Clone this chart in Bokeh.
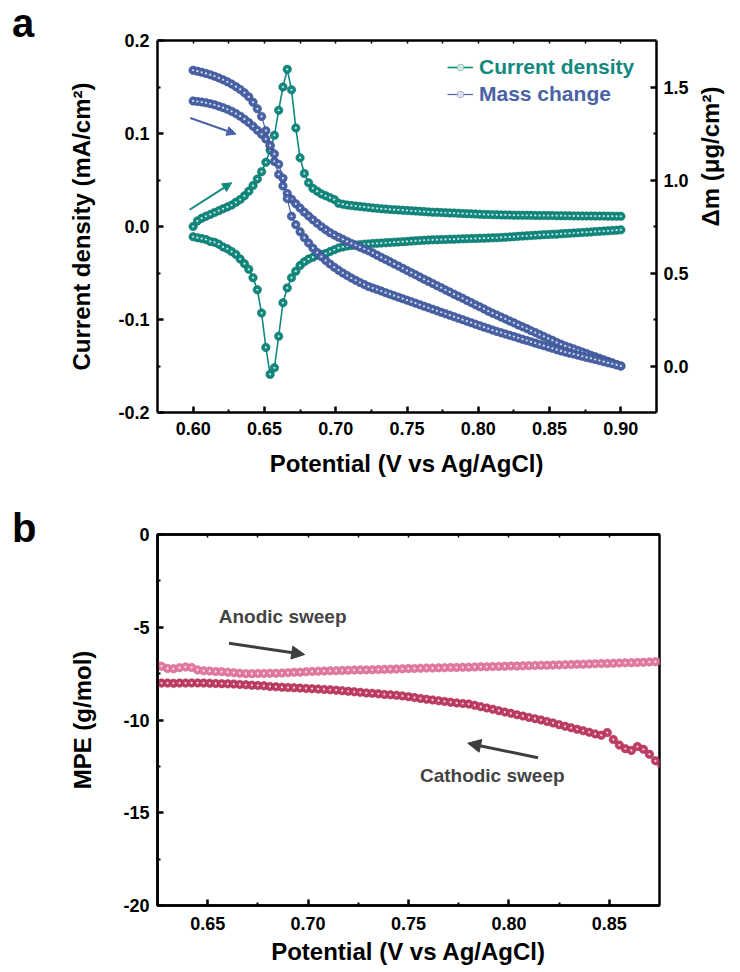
import math
from bokeh.plotting import figure
from bokeh.models import (Range1d, LinearAxis, FixedTicker, PrintfTickFormatter,
                          CustomJSTickFormatter, Legend, LegendItem, Arrow,
                          NormalHead, Label, ColumnDataSource, Div)
from bokeh.layouts import column, row
from bokeh.embed import file_html
from bokeh.resources import INLINE

# ---------------- data ----------------
POTENTIAL = [0.600, 0.603, 0.606, 0.609, 0.612, 0.615, 0.618, 0.621, 0.624, 0.627,
             0.630, 0.633, 0.636, 0.639, 0.642, 0.645, 0.648, 0.651, 0.654, 0.657,
             0.660, 0.663, 0.666, 0.669, 0.672, 0.675, 0.678, 0.681, 0.684, 0.687,
             0.690, 0.693, 0.696, 0.699, 0.702, 0.705, 0.708, 0.711, 0.714, 0.717,
             0.720, 0.723, 0.726, 0.729, 0.732, 0.735, 0.738, 0.741, 0.744, 0.747,
             0.750, 0.753, 0.756, 0.759, 0.762, 0.765, 0.768, 0.771, 0.774, 0.777,
             0.780, 0.783, 0.786, 0.789, 0.792, 0.795, 0.798, 0.801, 0.804, 0.807,
             0.810, 0.813, 0.816, 0.819, 0.822, 0.825, 0.828, 0.831, 0.834, 0.837,
             0.840, 0.843, 0.846, 0.849, 0.852, 0.855, 0.858, 0.861, 0.864, 0.867,
             0.870, 0.873, 0.876, 0.879, 0.882, 0.885, 0.888, 0.891, 0.894, 0.897,
             0.900]

# current density (mA/cm2), anodic and cathodic branches
CD_ANODIC = [0.000, 0.006, 0.009, 0.011, 0.013, 0.015, 0.017, 0.019, 0.021, 0.023,
             0.026, 0.029, 0.033, 0.038, 0.044, 0.051, 0.059, 0.069, 0.082, 0.098,
             0.125, 0.150, 0.169, 0.147, 0.106, 0.074, 0.057, 0.047, 0.041, 0.038,
             0.035, 0.033, 0.031, 0.029, 0.025, 0.024, 0.023, 0.0225, 0.022, 0.0215,
             0.021, 0.0205, 0.020, 0.0195, 0.019, 0.0187, 0.0184, 0.0181, 0.0178, 0.0175,
             0.0172, 0.0169, 0.0166, 0.0163, 0.016, 0.0157, 0.0154, 0.0152, 0.015, 0.0148,
             0.0146, 0.0144, 0.0142, 0.014, 0.0138, 0.0136, 0.0134, 0.0132, 0.013, 0.0128,
             0.0127, 0.0126, 0.0125, 0.0124, 0.0123, 0.0122, 0.0121, 0.0121, 0.012, 0.012,
             0.0119, 0.0118, 0.0118, 0.0117, 0.0117, 0.0116, 0.0116, 0.0115, 0.0115, 0.0114,
             0.0114, 0.0113, 0.0113, 0.0113, 0.0112, 0.0112, 0.0112, 0.0111, 0.0111, 0.011,
             0.011]
CD_CATHODIC = [-0.011, -0.012, -0.013, -0.014, -0.016, -0.017, -0.019, -0.022, -0.024, -0.027,
               -0.030, -0.035, -0.040, -0.046, -0.055, -0.068, -0.093, -0.130, -0.159, -0.152,
               -0.118, -0.082, -0.066, -0.055, -0.048, -0.042, -0.038, -0.035, -0.033, -0.031,
               -0.030, -0.029, -0.027, -0.025, -0.023, -0.022, -0.021, -0.0205, -0.020, -0.0195,
               -0.019, -0.0187, -0.0184, -0.0181, -0.0178, -0.0175, -0.0172, -0.0169, -0.0166, -0.0163,
               -0.016, -0.0157, -0.0154, -0.0151, -0.0148, -0.0145, -0.0143, -0.0142, -0.014, -0.0139,
               -0.0137, -0.0136, -0.0134, -0.0133, -0.0131, -0.013, -0.0128, -0.0127, -0.0125, -0.0124,
               -0.0122, -0.0121, -0.0118, -0.0115, -0.0112, -0.0109, -0.0106, -0.0103, -0.01, -0.0097,
               -0.0094, -0.0091, -0.0088, -0.0086, -0.0084, -0.0082, -0.0079, -0.0076, -0.0073, -0.007,
               -0.0067, -0.0064, -0.0061, -0.0058, -0.0055, -0.0052, -0.0049, -0.0046, -0.0043, -0.004,
               -0.0036]

# mass change (ug/cm2), two sweeps
MASS_CATHODIC = [1.590, 1.585, 1.579, 1.573, 1.566, 1.558, 1.549, 1.539, 1.528, 1.516,
                 1.502, 1.487, 1.469, 1.447, 1.418, 1.383, 1.342, 1.265, 1.185, 1.100,
                 1.030, 0.968, 0.928, 0.897, 0.872, 0.849, 0.827, 0.806, 0.786, 0.767,
                 0.749, 0.732, 0.717, 0.704, 0.692, 0.681, 0.670, 0.659, 0.649, 0.639,
                 0.629, 0.619, 0.608, 0.596, 0.584, 0.572, 0.561, 0.549, 0.537, 0.525,
                 0.513, 0.502, 0.490, 0.478, 0.466, 0.455, 0.444, 0.432, 0.421, 0.409,
                 0.398, 0.386, 0.375, 0.364, 0.352, 0.341, 0.329, 0.318, 0.307, 0.295,
                 0.284, 0.274, 0.263, 0.253, 0.242, 0.232, 0.221, 0.211, 0.201, 0.190,
                 0.180, 0.169, 0.159, 0.148, 0.138, 0.127, 0.117, 0.108, 0.100, 0.092,
                 0.083, 0.075, 0.067, 0.058, 0.050, 0.042, 0.033, 0.025, 0.017, 0.008,
                 0.000]
MASS_ANODIC = [1.425, 1.422, 1.419, 1.415, 1.410, 1.404, 1.397, 1.389, 1.380, 1.369,
               1.357, 1.343, 1.327, 1.309, 1.289, 1.268, 1.246, 1.220, 1.185, 1.140,
               1.085, 1.010, 0.900, 0.805, 0.760, 0.722, 0.690, 0.661, 0.634, 0.610,
               0.588, 0.567, 0.548, 0.531, 0.515, 0.500, 0.486, 0.473, 0.461, 0.449,
               0.438, 0.427, 0.419, 0.411, 0.403, 0.394, 0.386, 0.378, 0.370, 0.362,
               0.354, 0.346, 0.338, 0.329, 0.321, 0.313, 0.305, 0.297, 0.289, 0.281,
               0.273, 0.265, 0.257, 0.249, 0.241, 0.233, 0.225, 0.217, 0.209, 0.201,
               0.193, 0.186, 0.179, 0.172, 0.165, 0.158, 0.151, 0.144, 0.137, 0.130,
               0.123, 0.116, 0.109, 0.102, 0.095, 0.088, 0.081, 0.075, 0.069, 0.064,
               0.058, 0.052, 0.046, 0.041, 0.035, 0.029, 0.023, 0.017, 0.012, 0.006,
               0.000]

# MPE (g/mol), panel b
MPE_POTENTIAL = POTENTIAL[8:93]
MPE_ANODIC = [-6.95, -7.10, -7.22, -7.24, -7.18, -7.14, -7.17, -7.30, -7.35, -7.36,
              -7.39, -7.40, -7.42, -7.45, -7.48, -7.50, -7.50, -7.49, -7.49, -7.48,
              -7.48, -7.47, -7.45, -7.43, -7.42, -7.40, -7.38, -7.37, -7.36, -7.35,
              -7.34, -7.33, -7.32, -7.31, -7.30, -7.30, -7.29, -7.28, -7.27, -7.26,
              -7.25, -7.24, -7.23, -7.22, -7.21, -7.20, -7.20, -7.19, -7.18, -7.17,
              -7.17, -7.16, -7.15, -7.14, -7.13, -7.13, -7.12, -7.11, -7.10, -7.09,
              -7.09, -7.08, -7.07, -7.06, -7.05, -7.05, -7.04, -7.03, -7.02, -7.01,
              -7.00, -6.99, -6.98, -6.97, -6.96, -6.95, -6.94, -6.93, -6.92, -6.91,
              -6.90, -6.89, -6.87, -6.86, -6.84]
MPE_CATHODIC = [-8.02, -8.01, -8.01, -8.02, -8.01, -8.01, -8.00, -8.00, -8.01, -8.02,
                -8.03, -8.04, -8.05, -8.06, -8.08, -8.10, -8.12, -8.14, -8.16, -8.19,
                -8.21, -8.23, -8.25, -8.26, -8.28, -8.30, -8.31, -8.33, -8.35, -8.37,
                -8.39, -8.42, -8.45, -8.48, -8.51, -8.54, -8.56, -8.59, -8.62, -8.64,
                -8.67, -8.70, -8.74, -8.79, -8.84, -8.88, -8.92, -8.96, -9.00, -9.04,
                -9.08, -9.11, -9.14, -9.21, -9.28, -9.35, -9.42, -9.50, -9.57, -9.64,
                -9.72, -9.79, -9.86, -9.93, -10.00, -10.08, -10.16, -10.25, -10.34, -10.42,
                -10.50, -10.58, -10.66, -10.75, -10.82, -10.68, -11.05, -11.35, -11.55, -11.64,
                -11.43, -11.58, -11.85, -12.20, -12.40]

# ticks
X1_TICKS = [0.60, 0.65, 0.70, 0.75, 0.80, 0.85, 0.90]
X1_MINOR = [0.625, 0.675, 0.725, 0.775, 0.825, 0.875]
Y1_TICKS = [-0.2, -0.1, 0.0, 0.1, 0.2]
Y1_MINOR = [-0.15, -0.05, 0.05, 0.15]
M_TICKS = [0.0, 0.5, 1.0, 1.5]
M_MINOR = [0.25, 0.75, 1.25]
X2_TICKS = [0.65, 0.70, 0.75, 0.80, 0.85]
X2_MINOR = [0.675, 0.725, 0.775, 0.825]
Y2_TICKS = [-20, -15, -10, -5, 0]
Y2_MINOR = [-17.5, -12.5, -7.5, -2.5]

# annotation anchors (data coordinates)
ARROW_MASS = (0.598, 1.333, 0.630, 1.247)
ARROW_CD = (0.5975, 0.018, 0.627, 0.047)
ARROW_ANODIC = (0.6606, -5.86, 0.6983, -6.47)
ARROW_CATHODIC = (0.8145, -12.04, 0.7795, -11.25)

FONT = "Liberation Sans"
TEAL = "#11897e"
TEAL_EDGE = "#0a6b62"
BLUE = "#4a63a6"
BLUE_EDGE = "#334a86"
PINK = "#e27aa2"
PINK_EDGE = "#c8628a"
CRIMSON = "#c03d64"
CRIMSON_EDGE = "#99284b"
GRAY = "#3e3e3e"

SIDE_W = 40   # width of the column that carries the panel letter
MSIZE = 8.5


def style_axis(ax, labels=True, tick_in=6, minor_in=3):
    ax.axis_line_width = 2.5
    ax.axis_line_color = "black"
    ax.major_tick_in = tick_in
    ax.major_tick_out = 0
    ax.minor_tick_in = minor_in
    ax.minor_tick_out = 0
    ax.major_tick_line_width = 2.5
    ax.minor_tick_line_width = 2
    ax.major_tick_line_color = "black"
    ax.minor_tick_line_color = "black"
    ax.major_label_text_font = FONT
    ax.major_label_text_font_style = "bold"
    ax.major_label_text_font_size = "18px"
    ax.major_label_text_color = "black"
    ax.axis_label_text_font = FONT
    ax.axis_label_text_font_style = "bold"
    ax.axis_label_text_font_size = "24px"
    ax.axis_label_text_color = "black"
    if not labels:
        ax.formatter = CustomJSTickFormatter(code="return ''")
        ax.major_label_standoff = 0


def balls(p, x, y, color, edge, size, range_name="default"):
    src = ColumnDataSource(dict(x=x, y=y))
    r1 = p.scatter("x", "y", source=src, size=size, fill_color=color,
                   line_color=edge, line_width=0.5, y_range_name=range_name)
    r2 = p.scatter("x", "y", source=src, size=size * 0.26, fill_color="white",
                   line_color=None, fill_alpha=0.8, y_range_name=range_name)
    return [r1, r2]


def letter(txt, h, top):
    return Div(text=('<div style="position:relative;left:12px;top:%dpx;'
                     'font-family:\'Liberation Sans\';font-weight:bold;'
                     'font-size:40px;line-height:40px;color:black;">%s</div>') % (top, txt),
               width=SIDE_W, height=h, margin=(0, 0, 0, 0))


# ---------------- panel a ----------------
p1 = figure(width=740 - SIDE_W, height=498, x_range=Range1d(0.575, 0.925),
            y_range=Range1d(-0.2, 0.2), output_backend="svg",
            toolbar_location=None, min_border_left=157 - SIDE_W, min_border_right=81,
            min_border_top=40, min_border_bottom=86)
p1.extra_y_ranges = {"mass": Range1d(-0.25, 1.75)}
p1.xgrid.visible = False
p1.ygrid.visible = False
p1.outline_line_color = None
p1.background_fill_color = "white"

p1.xaxis.ticker = FixedTicker(ticks=X1_TICKS, minor_ticks=X1_MINOR)
p1.xaxis.formatter = PrintfTickFormatter(format="%.2f")
p1.xaxis.axis_label = "Potential (V vs Ag/AgCl)"
p1.yaxis.ticker = FixedTicker(ticks=Y1_TICKS, minor_ticks=Y1_MINOR)
p1.yaxis.formatter = PrintfTickFormatter(format="%.1f")
p1.yaxis.axis_label = "Current density (mA/cm²)"
for ax in p1.xaxis:
    style_axis(ax)
    ax.major_label_standoff = 9
    ax.axis_label_standoff = 12
for ax in p1.yaxis:
    style_axis(ax)
    ax.major_label_standoff = 8
    ax.axis_label_standoff = 20

right = LinearAxis(y_range_name="mass",
                   ticker=FixedTicker(ticks=M_TICKS, minor_ticks=M_MINOR),
                   formatter=PrintfTickFormatter(format="%.1f"),
                   axis_label="Δm (μg/cm²)")
style_axis(right)
right.major_label_standoff = 7
right.axis_label_standoff = 19
try:
    right.axis_label_orientation = math.pi / 2
except Exception:
    pass
p1.add_layout(right, "right")

top1 = LinearAxis(ticker=FixedTicker(ticks=X1_TICKS + X1_MINOR, minor_ticks=[]))
style_axis(top1, labels=False, tick_in=3, minor_in=2)
top1.major_tick_line_width = 1.5
p1.add_layout(top1, "above")

cd_a_line = p1.line(POTENTIAL, CD_ANODIC, line_color=TEAL, line_width=1.6)
cd_c_line = p1.line(POTENTIAL, CD_CATHODIC, line_color=TEAL, line_width=1.6)
cd_a = balls(p1, POTENTIAL, CD_ANODIC, TEAL, TEAL_EDGE, MSIZE)
cd_c = balls(p1, POTENTIAL, CD_CATHODIC, TEAL, TEAL_EDGE, MSIZE)

m_c_line = p1.line(POTENTIAL, MASS_CATHODIC, line_color=BLUE, line_width=1.2,
                   y_range_name="mass")
m_a_line = p1.line(POTENTIAL, MASS_ANODIC, line_color=BLUE, line_width=1.2,
                   y_range_name="mass")
m_c = balls(p1, POTENTIAL, MASS_CATHODIC, BLUE, BLUE_EDGE, MSIZE, "mass")
m_a = balls(p1, POTENTIAL, MASS_ANODIC, BLUE, BLUE_EDGE, MSIZE, "mass")

for (x0, y0, x1, y1), col, rn in [(ARROW_MASS, BLUE, "mass"), (ARROW_CD, TEAL, "default")]:
    p1.add_layout(Arrow(end=NormalHead(size=9, fill_color=col, line_color=col),
                        x_start=x0, y_start=y0, x_end=x1, y_end=y1,
                        line_color=col, line_width=2, y_range_name=rn))

for label, rends, col, loc in [("Current density", [cd_a_line] + cd_a, TEAL, (290, 333)),
                               ("Mass change", [m_a_line] + m_a, BLUE, (290, 306))]:
    lg = Legend(items=[LegendItem(label=label, renderers=rends)], location=loc,
                label_text_font=FONT, label_text_font_style="bold",
                label_text_font_size="21px", label_text_color=col,
                glyph_width=26, glyph_height=16, padding=0, margin=0,
                label_standoff=6, background_fill_alpha=0,
                border_line_color=None)
    p1.add_layout(lg, "center")

# ---------------- panel b ----------------
p2 = figure(width=740 - SIDE_W, height=474, x_range=Range1d(0.625, 0.875),
            y_range=Range1d(-20, 0), output_backend="svg",
            toolbar_location=None, min_border_left=157 - SIDE_W, min_border_right=81,
            min_border_top=36, min_border_bottom=67)
p2.xgrid.visible = False
p2.ygrid.visible = False
p2.outline_line_color = "black"
p2.outline_line_width = 2.5

p2.xaxis.ticker = FixedTicker(ticks=X2_TICKS, minor_ticks=X2_MINOR)
p2.xaxis.formatter = PrintfTickFormatter(format="%.2f")
p2.xaxis.axis_label = "Potential (V vs Ag/AgCl)"
p2.yaxis.ticker = FixedTicker(ticks=Y2_TICKS, minor_ticks=Y2_MINOR)
p2.yaxis.formatter = PrintfTickFormatter(format="%d")
p2.yaxis.axis_label = "MPE (g/mol)"
for ax in p2.xaxis:
    style_axis(ax)
    ax.major_label_standoff = 11
    ax.axis_label_standoff = 5
for ax in p2.yaxis:
    style_axis(ax)
    ax.major_label_standoff = 8
    ax.axis_label_standoff = 24

top2 = LinearAxis(ticker=FixedTicker(ticks=X2_TICKS + X2_MINOR, minor_ticks=[]))
style_axis(top2, labels=False, tick_in=3, minor_in=2)
top2.major_tick_line_width = 1.5
p2.add_layout(top2, "above")

balls(p2, MPE_POTENTIAL, MPE_ANODIC, PINK, PINK_EDGE, MSIZE)
balls(p2, MPE_POTENTIAL, MPE_CATHODIC, CRIMSON, CRIMSON_EDGE, MSIZE)

for (x0, y0, x1, y1) in [ARROW_ANODIC, ARROW_CATHODIC]:
    p2.add_layout(Arrow(end=NormalHead(size=13, fill_color=GRAY, line_color=GRAY),
                        x_start=x0, y_start=y0, x_end=x1, y_end=y1,
                        line_color=GRAY, line_width=3))

p2.add_layout(Label(x=0.6555, y=-4.42, text="Anodic sweep", text_font=FONT,
                    text_font_style="bold", text_font_size="19px",
                    text_baseline="middle", text_align="left"))
p2.add_layout(Label(x=0.7917, y=-13.0, text="Cathodic sweep", text_font=FONT,
                    text_font_style="bold", text_font_size="19px",
                    text_baseline="middle", text_align="center"))

layout = column(row(letter("a", 498, 3), p1, spacing=0),
                row(letter("b", 474, 10), p2, spacing=0), spacing=0)
open("out.html", "w").write(file_html(layout, INLINE))
